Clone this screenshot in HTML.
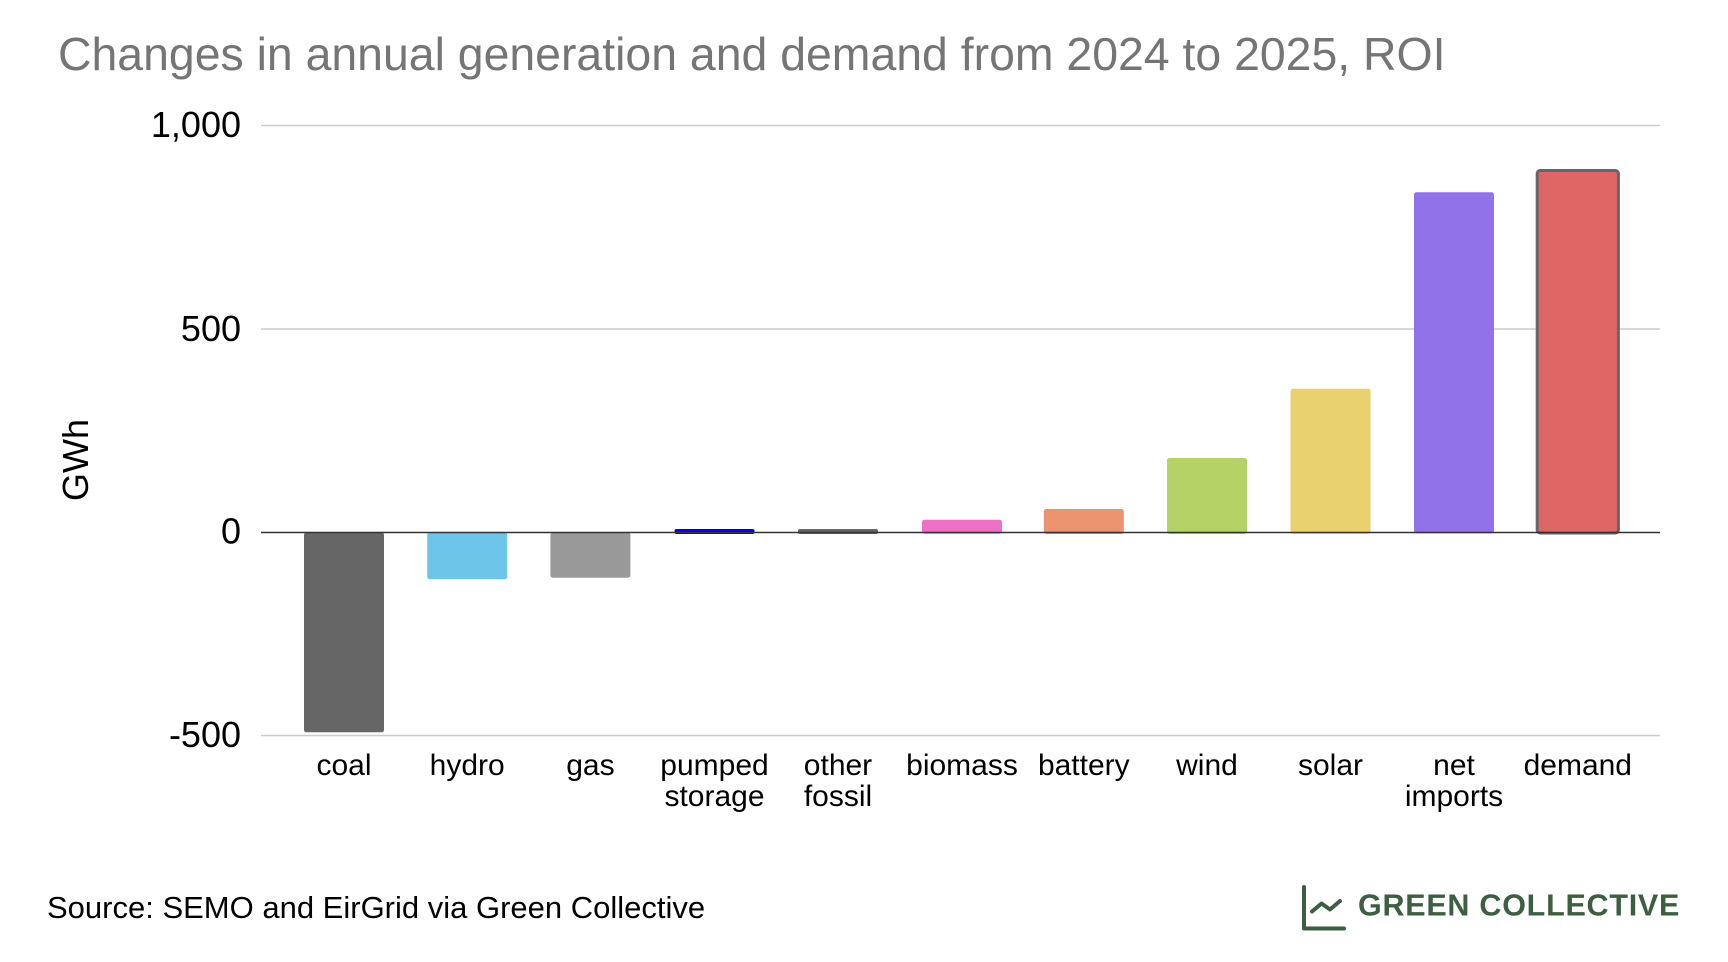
<!DOCTYPE html>
<html>
<head>
<meta charset="utf-8">
<style>
  html, body { margin: 0; padding: 0; background: #ffffff; }
  body { width: 1728px; height: 962px; overflow: hidden; }
  svg { display: block; }
  text { font-family: "Liberation Sans", Arial, sans-serif; }
</style>
</head>
<body>
<svg width="1728" height="962" viewBox="0 0 1728 962" xmlns="http://www.w3.org/2000/svg">
  <rect x="0" y="0" width="1728" height="962" fill="#ffffff"/>

  <!-- Title -->
  <text x="58" y="70" font-size="46.4" fill="#757575">Changes in annual generation and demand from 2024 to 2025, ROI</text>

  <!-- Gridlines -->
  <g stroke="#cccccc" stroke-width="1.5">
    <line x1="261" y1="125.5" x2="1660" y2="125.5"/>
    <line x1="261" y1="329" x2="1660" y2="329"/>
    <line x1="261" y1="735.5" x2="1660" y2="735.5"/>
  </g>

  <!-- Y tick labels -->
  <g font-size="36" fill="#000000" text-anchor="end">
    <text x="241" y="137">1,000</text>
    <text x="241" y="341">500</text>
    <text x="241" y="543.5">0</text>
    <text x="241" y="747">-500</text>
  </g>

  <!-- Y axis title -->
  <text transform="translate(88,460) rotate(-90)" font-size="36" fill="#000000" text-anchor="middle">GWh</text>

  <!-- Bars -->
  <rect x="304" y="532.5" width="80" height="199.8" rx="2.5" fill="#666666"/>
  <rect x="427.2" y="532.5" width="80" height="46.8" rx="2.5" fill="#6dc6ea"/>
  <rect x="550.4" y="532.5" width="80" height="45.2" rx="2.5" fill="#999999"/>
  <rect x="674.5" y="529" width="80" height="5" rx="2" fill="#0000ff"/>
  <rect x="798" y="529" width="80" height="5" rx="2" fill="#666666"/>
  <rect x="922" y="519.7" width="80" height="14" rx="2.5" fill="#ed6fc7"/>
  <rect x="1043.8" y="509" width="80" height="25" rx="2.5" fill="#ec936f"/>
  <rect x="1167" y="458" width="80" height="76" rx="2.5" fill="#b4d265"/>
  <rect x="1290.5" y="388.7" width="80" height="145" rx="2.5" fill="#e9d170"/>
  <rect x="1414" y="192.3" width="80" height="341" rx="2.5" fill="#9172e8"/>
  <rect x="1537.2" y="170.5" width="81.2" height="362.5" rx="3" fill="#e06666" stroke="#666666" stroke-width="3"/>

  <!-- Zero baseline -->
  <line x1="261" y1="532.5" x2="1660" y2="532.5" stroke="#333333" stroke-width="1.6"/>

  <!-- X labels -->
  <g font-size="30" fill="#000000" text-anchor="middle">
    <text x="344" y="775">coal</text>
    <text x="467.2" y="775">hydro</text>
    <text x="590.4" y="775">gas</text>
    <text x="714.5" y="775">pumped</text>
    <text x="714.5" y="806">storage</text>
    <text x="838" y="775">other</text>
    <text x="838" y="806">fossil</text>
    <text x="962" y="775">biomass</text>
    <text x="1083.8" y="775">battery</text>
    <text x="1207" y="775">wind</text>
    <text x="1330.5" y="775">solar</text>
    <text x="1454" y="775">net</text>
    <text x="1454" y="806">imports</text>
    <text x="1577.8" y="775">demand</text>
  </g>

  <!-- Source -->
  <text x="47" y="918" font-size="31" fill="#000000">Source: SEMO and EirGrid via Green Collective</text>

  <!-- Logo -->
  <g stroke="#3d5e41" stroke-width="4" fill="none" stroke-linecap="round" stroke-linejoin="round">
    <polyline points="1304,887 1304,928.5 1344,928.5"/>
    <polyline points="1312,911.5 1321.5,903.5 1330,909.5 1340,901"/>
  </g>
  <text x="1358" y="915.5" font-size="30.5" font-weight="bold" fill="#3d5e41" letter-spacing="0.75">GREEN COLLECTIVE</text>
</svg>
</body>
</html>
